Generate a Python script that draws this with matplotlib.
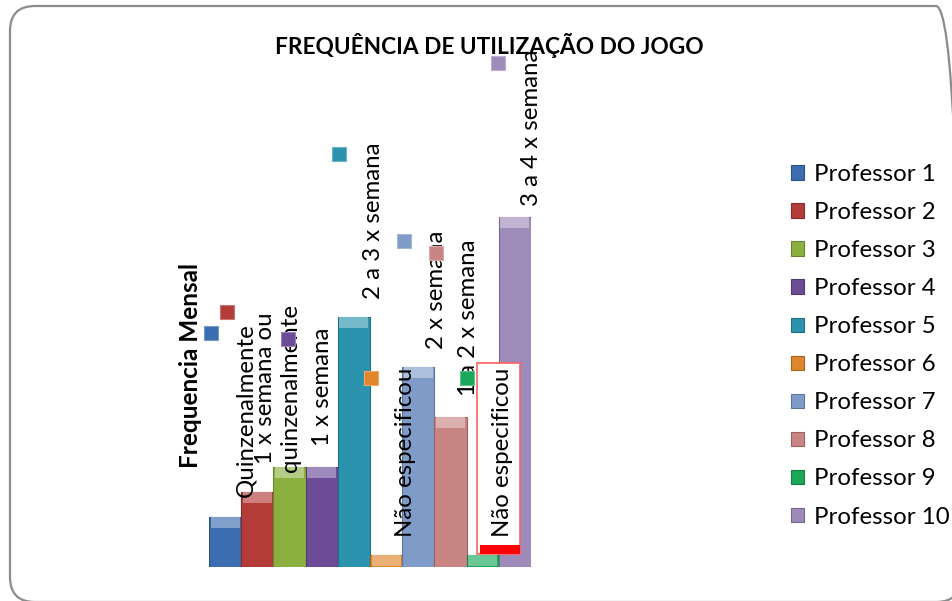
import matplotlib
matplotlib.use("Agg")
import matplotlib.pyplot as plt
from matplotlib.patches import FancyBboxPatch, Rectangle
from matplotlib.transforms import IdentityTransform
from matplotlib.colors import to_rgb
import numpy as np

# dados
professores = ["Professor 1", "Professor 2", "Professor 3", "Professor 4", "Professor 5",
               "Professor 6", "Professor 7", "Professor 8", "Professor 9", "Professor 10"]
frequencia = [1, 1.5, 2, 2, 5, 0.25, 4, 3, 0.25, 7]
rotulos = ["Quinzenalmente", "1 x semana ou\nquinzenalmente", "", "1 x semana",
           "2 a 3 x semana", "Não especificou", "2 x semana", "1 a 2 x semana",
           "Não especificou", "3 a 4 x semana"]
cores = ["#3b6db0", "#b33b38", "#8cb040", "#6c4c96", "#2c93ae",
         "#e0862c", "#7f9cc9", "#c98584", "#1aa85a", "#9e8bba"]

# posicao dos rotulos (arrastados a mao no Excel)
rot_dx = [0.65, 0.64, 0, 0.01, 0.62, 0.59, 0.58, 0.57, 0.63, 0.53]
rot_y = [3.14, 3.58, 0, 3.6, 6.92, 2.3, 5.54, 4.98, 2.3, 8.78]
chave_dx = [-0.44, -0.94, 0, -1.05, -0.46, -0.47, -0.44, -0.45, -0.49, -0.525]
chave_y = [4.68, 5.1, 0, 4.56, 8.26, 3.78, 6.52, 6.28, 3.78, 10.08]

FONTE = "Lato"
plt.rcParams["font.family"] = [FONTE, "DejaVu Sans"]


def shade(c, f):
    r, g, b = to_rgb(c)
    if f > 0:
        return (r + (1 - r) * f, g + (1 - g) * f, b + (1 - b) * f)
    return (r * (1 + f), g * (1 + f), b * (1 + f))


W, H = 952, 601
fig = plt.figure(figsize=(W / 100, H / 100), dpi=100)
ax = fig.add_axes([209 / W, (H - 567) / H, 322 / W, 550 / H])
ax.set_xlim(-0.5, 9.5)
ax.set_ylim(0, 11)
ax.axis("off")

x = np.arange(len(frequencia))
freq = np.array(frequencia)
for i in x:
    ax.bar(i, freq[i], width=1.0, color=cores[i], edgecolor=shade(cores[i], -0.25),
           linewidth=0.8, label=professores[i], zorder=2)
# bisel claro no topo das barras
bisel = np.minimum(0.22, freq)
ax.bar(x, bisel, bottom=freq - bisel, width=0.9,
       color=[shade(c, 0.35) for c in cores], linewidth=0, zorder=2.1)

# caixa selecionada do rotulo do Professor 9
ax.add_patch(Rectangle((7.82, 0.26), 1.34, 3.82, facecolor="white",
                       edgecolor="#ff6060", linewidth=1.2, zorder=3))
ax.add_patch(Rectangle((7.92, 0.26), 1.24, 0.18, facecolor="#ff0000",
                       linewidth=0, zorder=3.1))

for i in x:
    if not rotulos[i]:
        continue
    ax.text(i + rot_dx[i], rot_y[i], rotulos[i], rotation=90, ha="center", va="center",
            fontsize=17.3, linespacing=1.25, color="black", zorder=4, clip_on=False)
    ax.scatter(i + chave_dx[i], chave_y[i], marker="s", s=100, color=cores[i],
               edgecolors=shade(cores[i], 0.3), linewidths=0.8, zorder=5, clip_on=False)

fig.text(489 / W, 1 - 45 / H, "FREQUÊNCIA DE UTILIZAÇÃO DO JOGO", ha="center", va="center",
         fontsize=16.3, fontweight="bold")
fig.text(191 / W, 1 - 366 / H, "Frequencia Mensal", rotation=90, ha="center", va="center",
         fontsize=17.5, fontweight="bold")

handles, labels = ax.get_legend_handles_labels()
fig.legend(handles, labels, loc="upper left", bbox_to_anchor=(791 / W, 1 - 164 / H),
           frameon=False, fontsize=17.3, handlelength=0.55, handleheight=0.55,
           handletextpad=0.42, labelspacing=0.71, borderpad=0, borderaxespad=0)

frame = FancyBboxPatch((10, -1), 951, 596, boxstyle="round,pad=0,rounding_size=25",
                       transform=IdentityTransform(), facecolor="none",
                       edgecolor="#8c8c8c", linewidth=1.6)
fig.add_artist(frame)

fig.savefig("out.png", dpi=100)
